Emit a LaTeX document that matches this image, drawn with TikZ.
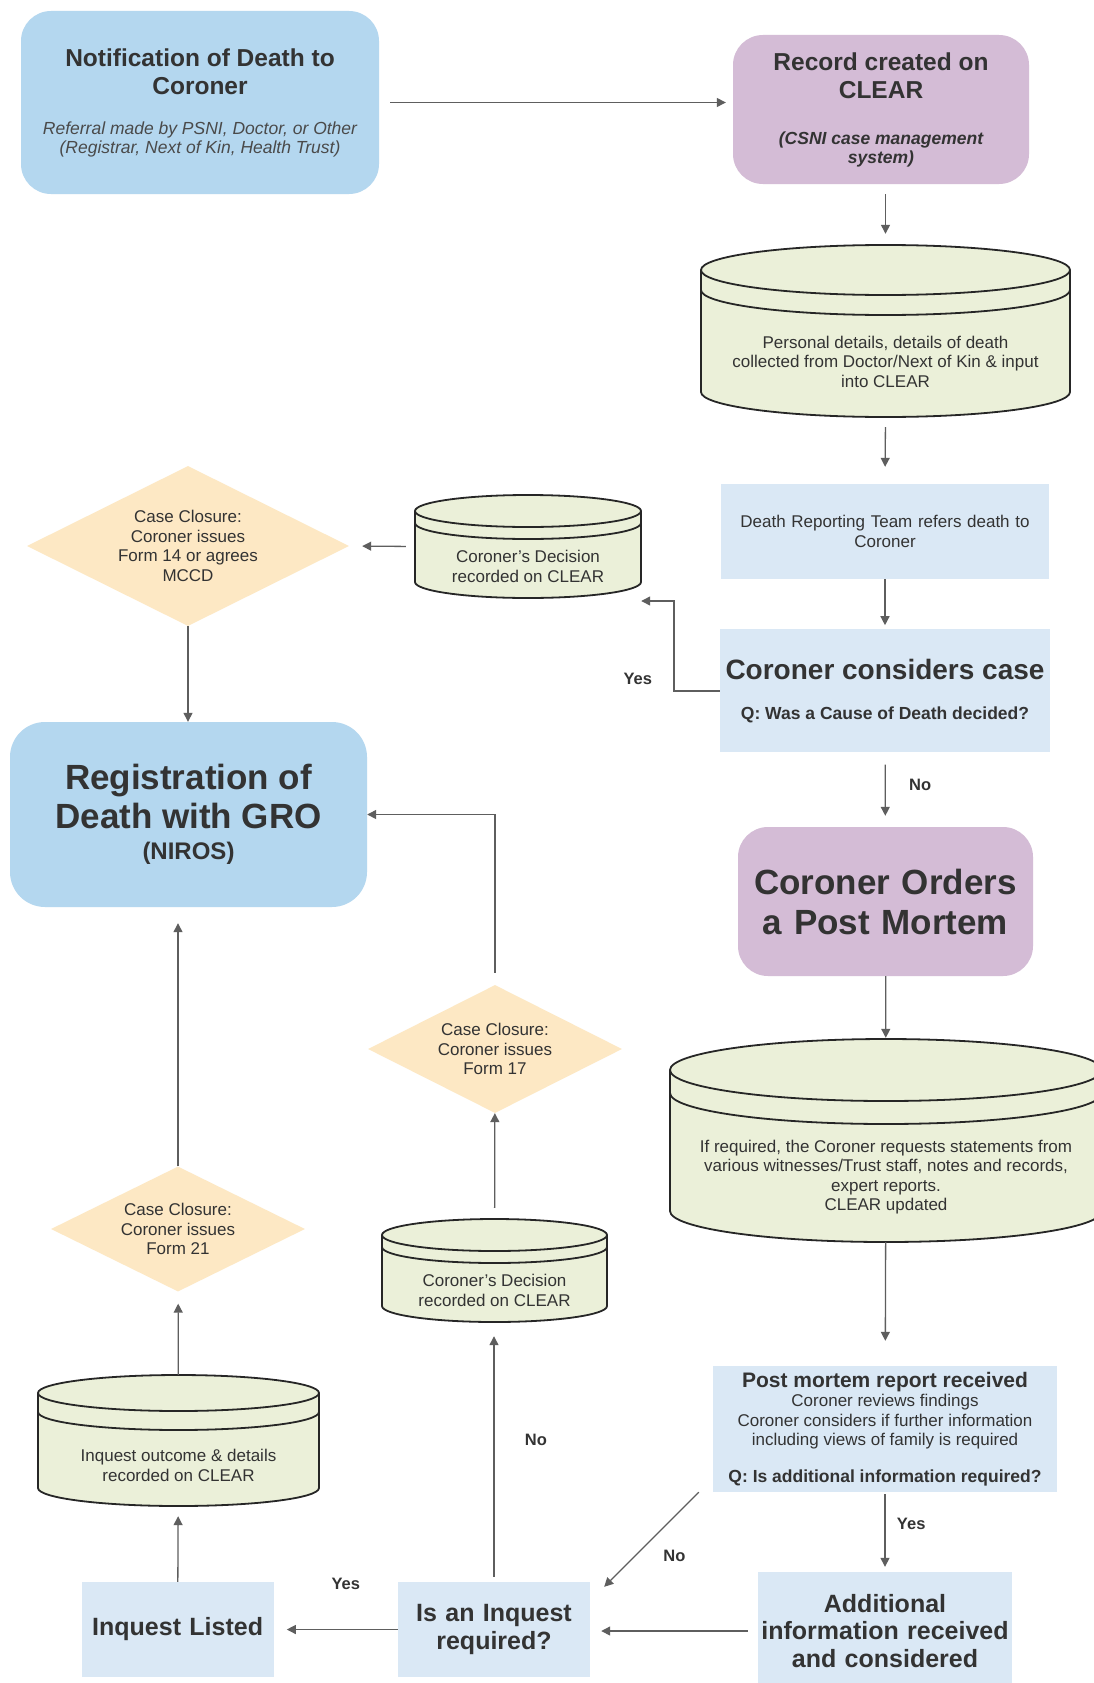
\documentclass[tikz,border=0pt]{standalone}
\usepackage{fontspec}
\setmainfont{Liberation Sans}
\usetikzlibrary{positioning,shapes.geometric,arrows.meta}

\definecolor{roundblue}{HTML}{B4D7EF}
\definecolor{roundpurple}{HTML}{D4BCD6}
\definecolor{paleblue}{HTML}{DAE8F5}
\definecolor{cylgreen}{HTML}{EBF0D9}
\definecolor{peach}{HTML}{FDE8C4}
\definecolor{arrowgray}{HTML}{5E5E5E}
\definecolor{textgray}{HTML}{333333}
\definecolor{subgray}{HTML}{4A4A4A}

\newcommand{\fixspace}{\spaceskip=\fontdimen2\font\relax}
\newcommand{\smallfnt}{\fontsize{17}{19.5}\selectfont\mdseries\fixspace}
\newcommand{\subfnt}{\fontsize{17.5}{18.5}\selectfont\mdseries\fixspace}
\newcommand{\titlefnt}{\fontsize{24.5}{28}\selectfont\bfseries\fixspace}
\newcommand{\bigfnt}{\fontsize{35}{39.5}\selectfont\bfseries\fixspace}
\newcommand{\midfnt}{\fontsize{25}{27.5}\selectfont\bfseries\fixspace}
\newcommand{\labelfnt}{\fontsize{16.5}{19}\selectfont\bfseries}

% cylinder with double top: name, left, right, top, bottom, y radius, gap, text
\newcommand{\dbcyl}[8]{%
  \pgfmathsetmacro{\cylrx}{(#3-#2)/2}
  \filldraw[cylline, fill=cylgreen] (#2,#4+#6)
    arc[start angle=180, end angle=0, x radius=\cylrx pt, y radius=#6pt]
    -- (#3,#5-#6)
    arc[start angle=0, end angle=-180, x radius=\cylrx pt, y radius=#6pt] -- cycle;
  \draw[cylline] (#2,#4+#6) arc[start angle=180, end angle=360, x radius=\cylrx pt, y radius=#6pt];
  \draw[cylline] (#2,#4+#6+#7) arc[start angle=180, end angle=360, x radius=\cylrx pt, y radius=#6pt];
  \node[inner sep=0pt, minimum width={#3-#2}, minimum height={#5-#4}] (#1) at ({(#2+#3)/2},{(#4+#5)/2}) {};
  \node[cyltext] (#1-text) at ({(#2+#3)/2},{(#4+2*#6+#7+#5-#6/2)/2+2}) {#8};
}

\begin{document}
\begin{tikzpicture}[x=1pt, y=-1pt,
  roundbox/.style={rounded corners=30pt, align=center, inner sep=0pt, text=textgray},
  flatbox/.style={fill=paleblue, align=center, inner sep=0pt, text=textgray},
  closure/.style={diamond, aspect=2, fill=peach, align=center, inner sep=0pt, font=\smallfnt, text=textgray},
  cylline/.style={draw=black!85, line width=1.8pt},
  cyltext/.style={align=center, inner sep=0pt, font=\smallfnt, text=textgray},
  arr/.style={draw=arrowgray, line width=1.3pt, -{Triangle[length=9pt,width=9pt]}},
  lbl/.style={font=\labelfnt, text=textgray}]
  \path[use as bounding box, fill=white] (0,0) rectangle (1094,1683);

  % top row and right column
  \node[roundbox, fill=roundblue, minimum width=358pt, minimum height=183pt, text width=350pt, font=\titlefnt] (notif) at (200,102.5)
    {{\titlefnt Notification of Death to\\Coroner\par}\vspace{22pt}{\subfnt\itshape\fixspace\color{subgray}Referral made by PSNI, Doctor, or Other\\(Registrar, Next of Kin, Health Trust)\par}};
  \node[roundbox, fill=roundpurple, minimum width=296pt, minimum height=149pt, text width=290pt, font=\titlefnt] (record) at (881,109.5)
    {{\titlefnt Record created on\\CLEAR\par}\vspace{28pt}{\subfnt\bfseries\itshape\fixspace (CSNI case management\\system)\par}};
  \dbcyl{facts}{701}{1070}{245}{417}{25}{20}{Personal details, details of death\\collected from Doctor/Next of Kin \& input\\into CLEAR}
  \node[flatbox, minimum width=328pt, minimum height=95pt, text width=324pt, font=\smallfnt] (drt) at (885,531.5)
    {Death Reporting Team refers death to\\Coroner};
  \node[flatbox, minimum width=328pt, minimum height=123pt, text width=330pt, font=\fontsize{28}{30}\selectfont\bfseries, below=50pt of drt] (cc)
    {{\fontsize{28}{30}\selectfont\bfseries\fixspace Coroner considers case\par}\vspace{20pt}{\fontsize{17.5}{20}\selectfont\bfseries\fixspace Q: Was a Cause of Death decided?\par}};
  \node[roundbox, fill=roundpurple, minimum width=295pt, minimum height=149pt, text width=290pt, font=\fontsize{35}{40}\selectfont\bfseries] (orders) at (885.5,901.5)
    {Coroner Orders\\a Post Mortem};
  \dbcyl{evidence}{670}{1102}{1039}{1242}{31}{23}{If required, the Coroner requests statements from\\various witnesses/Trust staff, notes and records,\\expert reports.\\CLEAR updated}
  \node[flatbox, minimum width=344pt, minimum height=126pt, text width=344pt, font=\smallfnt] (pmr) at (885,1429)
    {{\fontsize{21}{22}\selectfont\bfseries\fixspace Post mortem report received\par}{\smallfnt Coroner reviews findings\\Coroner considers if further information\\including views of family is required\par}\vspace{17.5pt}{\fontsize{17.5}{19.5}\selectfont\bfseries\fixspace Q: Is additional information required?\par}};
  \node[flatbox, minimum width=254pt, minimum height=118pt, text width=254pt, font=\midfnt] (add) at (885,1631)
    {Additional\\information received\\and considered};

  % left side
  \dbcyl{decA}{415}{641}{495}{598}{16}{12}{Coroner's Decision\\recorded on CLEAR}
  \node[closure, minimum width=322pt, minimum height=160pt] (formA) at (188,546) {Case Closure:\\Coroner issues\\Form 14 or agrees\\MCCD};
  \node[roundbox, rounded corners=35pt, fill=roundblue, minimum width=357pt, minimum height=185pt, text width=350pt, font=\bigfnt] (reg) at (188.5,814.5)
    {{\bigfnt Registration of\\Death with GRO\par}\vspace{4pt}{\fontsize{24}{27}\selectfont\bfseries\fixspace (NIROS)\par}};
  \node[closure, minimum width=254pt, minimum height=128pt] (formB) at (495,1049) {Case Closure:\\Coroner issues\\Form 17};
  \dbcyl{decB}{382}{607}{1219}{1322}{16}{12}{Coroner's Decision\\recorded on CLEAR}
  \node[closure, minimum width=254pt, minimum height=125pt] (formC) at (178,1229) {Case Closure:\\Coroner issues\\Form 21};
  \dbcyl{outcome}{38}{319}{1375}{1506}{18}{19}{Inquest outcome \& details\\recorded on CLEAR}
  \node[flatbox, minimum width=192pt, minimum height=95pt, text width=192pt, font=\midfnt] (inq) at (494,1629.5) {Is an Inquest\\required?};
  \node[flatbox, minimum width=192pt, minimum height=95pt, text width=192pt, font=\midfnt, left=124pt of inq] (listed) {Inquest Listed};

  \coordinate (yesbend) at (674,601);

  \draw[arr, shorten <=11pt, shorten >=7pt] (notif.east) -- (record.west |- notif.east);
  \draw[arr, shorten <=10pt, shorten >=11pt] (record.south -| facts.north) -- (facts.north);
  \draw[arr, shorten <=10pt, shorten >=17pt] (facts.south) -- (drt.north);
  \draw[arr, shorten >=4pt] (drt) -- (cc);
  \draw[arr] (cc.west) -| node[lbl, pos=0.564, left=18pt] {Yes} (yesbend) -- (yesbend -| decA.east);
  \draw[arr, shorten <=9pt, shorten >=13pt] (decA.west) -- (formA.east);
  \draw[arr] (formA.south) -- (formA.south |- reg.north);
  \draw[arr, shorten <=12pt, shorten >=11pt] (cc) -- node[lbl, pos=0.44, right=20pt] {No} (orders);
  \draw[arr, shorten >=1pt] (orders) -- (evidence);
  \draw[arr, shorten >=25pt] (evidence) -- (pmr);
  \draw[arr, shorten <=2pt, shorten >=5pt] (pmr) -- node[lbl, pos=0.4, right=8pt] {Yes} (add);
  \draw[arr] ([xshift=-14pt]pmr.south west) -- node[lbl, pos=0.67, right=24pt] {No} ([xshift=14pt,yshift=-5pt]inq.north east);
  \draw[arr, shorten <=10pt, shorten >=11pt] (add.west) -- (add.west -| inq.east);
  \draw[arr, shorten >=13pt] (inq.west) -- node[lbl, pos=0.42, above=36pt] {Yes} (listed.east);
  \draw[arr, shorten >=10pt] (listed) -- (outcome);
  \draw[arr, shorten >=12pt] (outcome) -- (formC);
  \draw[arr, shorten >=16pt] (formC.north) -- (formC.north |- reg.south);
  \draw[arr, shorten <=5pt, shorten >=14pt] (inq.north) -- node[lbl, pos=0.546, right=27pt] {No} (inq.north |- decB.south);
  \draw[arr, shorten <=11pt] (decB) -- (formB);
  \draw[arr, shorten <=12pt] (formB.north) |- (reg.east);
\end{tikzpicture}
\end{document}
